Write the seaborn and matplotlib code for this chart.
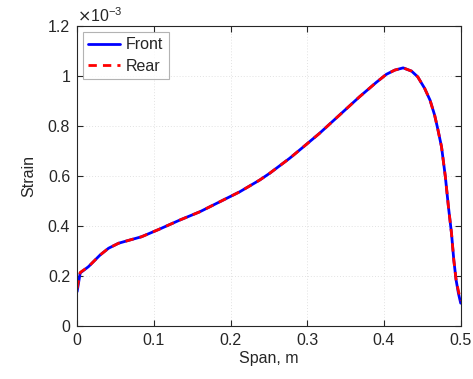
import numpy as np
import pandas as pd
import matplotlib
matplotlib.use("Agg")
import matplotlib.pyplot as plt
import seaborn as sns

span = [0.0, 0.004, 0.0147, 0.030, 0.041, 0.054, 0.070, 0.084, 0.107, 0.134,
        0.160, 0.186, 0.212, 0.238, 0.251, 0.277, 0.290, 0.316, 0.342, 0.368,
        0.390, 0.403, 0.414, 0.425, 0.436, 0.444, 0.453, 0.460, 0.466, 0.470,
        0.475, 0.480, 0.484, 0.488, 0.491, 0.494, 0.497, 0.500]
front = [0.137, 0.212, 0.237, 0.284, 0.311, 0.331, 0.345, 0.357, 0.387, 0.424,
         0.457, 0.497, 0.537, 0.584, 0.611, 0.671, 0.704, 0.771, 0.844, 0.917,
         0.975, 1.007, 1.024, 1.033, 1.020, 0.997, 0.951, 0.904, 0.844, 0.790,
         0.717, 0.597, 0.477, 0.371, 0.264, 0.184, 0.131, 0.091]
rear = [0.150, 0.214, 0.237, 0.284, 0.311, 0.331, 0.345, 0.357, 0.387, 0.424,
        0.457, 0.497, 0.537, 0.584, 0.611, 0.671, 0.704, 0.771, 0.844, 0.917,
        0.975, 1.007, 1.024, 1.033, 1.020, 0.997, 0.951, 0.904, 0.844, 0.790,
        0.717, 0.597, 0.477, 0.371, 0.264, 0.184, 0.140, 0.100]
series_names = ["Front", "Rear"]
xticks = [0, 0.1, 0.2, 0.3, 0.4, 0.5]
xticklabels = ["0", "0.1", "0.2", "0.3", "0.4", "0.5"]
yticks = [0, 0.2, 0.4, 0.6, 0.8, 1.0, 1.2]
yticklabels = ["0", "0.2", "0.4", "0.6", "0.8", "1", "1.2"]

df = pd.DataFrame({
    "Span": span * 2,
    "Strain": front + rear,
    "Series": [series_names[0]] * len(span) + [series_names[1]] * len(span),
})

sns.set_style("white")
plt.rcParams["font.family"] = ["Liberation Sans", "DejaVu Sans"]
axcol = "#262626"

fig = plt.figure(figsize=(4.73, 3.79), dpi=100)
ax = fig.add_axes([0.163, 0.140, 0.811, 0.791])

sns.lineplot(data=df, x="Span", y="Strain", hue="Series", style="Series",
             palette={"Front": (0, 0, 1), "Rear": (1, 0, 0)},
             dashes={"Front": "", "Rear": (3, 2.2)},
             linewidth=2.0, ax=ax, sort=False, estimator=None)
for ln in ax.get_lines():
    ln.set_solid_joinstyle("round")
    ln.set_dash_joinstyle("round")

ax.set_xlim(0, 0.5)
ax.set_ylim(0, 1.2)
ax.set_xticks(xticks)
ax.set_xticklabels(xticklabels)
ax.set_yticks(yticks)
ax.set_yticklabels(yticklabels)
ax.grid(True, color="#e2e2e2", linestyle=(0, (1, 2)), linewidth=0.7)
ax.set_axisbelow(True)
for s in ax.spines.values():
    s.set_visible(True)
    s.set_color(axcol)
    s.set_linewidth(0.8)
ax.tick_params(direction="in", length=4, width=0.8, colors=axcol,
               labelsize=11.5, labelcolor=axcol, top=True, right=True,
               bottom=True, left=True, pad=5)
ax.set_xlabel("Span, m", fontsize=11.5, color=axcol, labelpad=2)
ax.set_ylabel("Strain", fontsize=11.5, color=axcol, labelpad=8)

ax.text(0.0, 1.005, r"$\times$10$^{\mathregular{-3}}$", transform=ax.transAxes,
        fontsize=11.5, color=axcol, ha="left", va="bottom")

leg = ax.legend(loc="upper left", fontsize=11.5, frameon=True, fancybox=False,
                borderaxespad=0.35, handlelength=2.0, handletextpad=0.35,
                borderpad=0.35, labelspacing=0.4)
leg.set_title(None)
leg.get_frame().set_edgecolor("#a0a0a0")
leg.get_frame().set_linewidth(0.8)

fig.savefig("out.png", dpi=100)
